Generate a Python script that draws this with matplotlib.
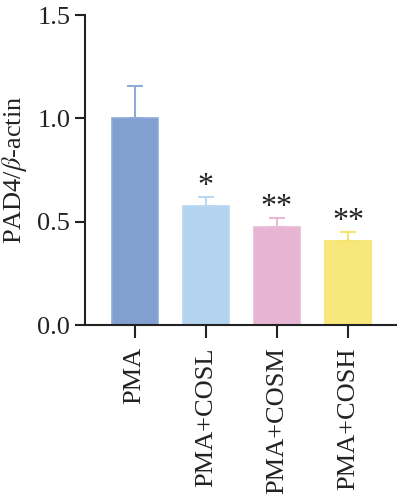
import matplotlib.pyplot as plt
import numpy as np

plt.rcParams['font.family'] = ['Liberation Serif', 'DejaVu Serif']
plt.rcParams['mathtext.fontset'] = 'stix'

# data
groups = ['PMA', 'PMA+COSL', 'PMA+COSM', 'PMA+COSH']
means = [1.0, 0.575, 0.475, 0.405]
errs = [0.155, 0.045, 0.045, 0.045]
stars = ['', '*', '**', '**']
colors = ['#819fd0', '#b3d3ee', '#e6b5d3', '#f8e77a']
err_colors = ['#8fabd8', '#b9d7f0', '#e9b9d6', '#f5e46f']

fig = plt.figure(figsize=(3.97, 5.0), dpi=100)
ax = fig.add_axes([0.214, 0.35, 0.786, 0.62])

x = np.arange(len(groups))
ax.bar(x, means, width=0.65, color=colors, edgecolor=err_colors, linewidth=1.2, zorder=2)
for i in range(len(groups)):
    ax.errorbar(x[i], means[i], yerr=[[0], [errs[i]]], color=err_colors[i],
                capsize=5.5, elinewidth=1.5, capthick=1.5, zorder=1)
    if stars[i]:
        ax.text(x[i], means[i] + errs[i] + 0.05, stars[i], ha='center', va='center',
                fontsize=23, color='#222222')

ax.set_xlim(-0.7, 3.69)
ax.set_ylim(0, 1.5)
ax.set_yticks([0.0, 0.5, 1.0, 1.5])
ax.set_yticklabels(['0.0', '0.5', '1.0', '1.5'])
ax.set_xticks(x)
ax.set_xticklabels(groups, rotation=90)
ax.tick_params(axis='both', labelsize=19, width=1.5, length=7, color='#222222', labelcolor='#222222')
ax.tick_params(axis='x', length=9, pad=7)
ax.set_ylabel(r'PAD4/$\it{\beta}$-actin', fontsize=19, color='#222222', labelpad=6)

for s in ['top', 'right']:
    ax.spines[s].set_visible(False)
for s in ['left', 'bottom']:
    ax.spines[s].set_linewidth(1.5)
    ax.spines[s].set_color('#222222')

fig.savefig('out.png', dpi=100)
